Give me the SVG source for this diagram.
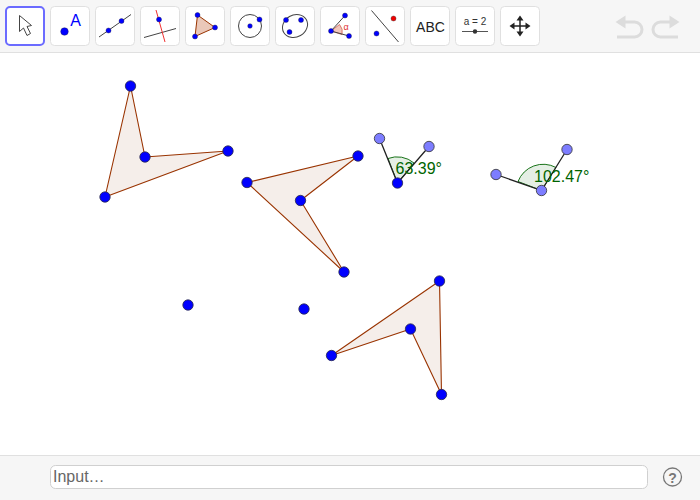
<svg xmlns="http://www.w3.org/2000/svg" width="700" height="500" viewBox="0 0 700 500">
<style>
text{font-family:"Liberation Sans",Arial,sans-serif}
.btn{fill:#fff;stroke:#e0e0e0;stroke-width:1}
.poly{fill:#995533;fill-opacity:.1;stroke:#993300;stroke-width:1.1;stroke-linejoin:round}
.pt{fill:#0000ff;stroke:#2a2a4a;stroke-width:.8}
.lp{fill:#7d7dff;stroke:#333;stroke-width:.8}
.seg{stroke:#222;stroke-width:1.3;fill:none}
.ang{fill:#006400;fill-opacity:.1;stroke:#006400;stroke-width:.9}
.alab{fill:#006400;font-size:16px}
.ip{fill:#0000ff;stroke:#224;stroke-width:.4}
.ic{stroke:#444;stroke-width:1;fill:none}
.und{fill:none;stroke:#dcdcdc;stroke-width:3}
.undh{fill:#dcdcdc}
</style>
<rect width="700" height="500" fill="#fff"/>
<g id="toolbar">
<rect x="0" y="0" width="700" height="52" fill="#f6f6f6"/>
<line x1="0" y1="52.500" x2="700" y2="52.500" stroke="#e0e0e0"/>
<rect x="6" y="7" width="38" height="38" rx="4" fill="#fff" stroke="#6b6bff" stroke-width="2"/>
<path d="M19.500 15.500V31.500L23.500 28L27 35.500L30.500 33.500L27 26.500L31.500 25.500Z" fill="#fff" stroke="#444"/>
<rect class="btn" x="50.500" y="6.500" width="39" height="39" rx="4"/>
<circle class="ip" cx="64.500" cy="31.500" r="3.800"/>
<text x="75.500" y="26" font-size="16" fill="#0000ff" text-anchor="middle">A</text>
<rect class="btn" x="95.500" y="6.500" width="39" height="39" rx="4"/>
<line class="ic" x1="99" y1="37" x2="131" y2="14.500"/>
<circle class="ip" cx="108.500" cy="30.500" r="2.500"/><circle class="ip" cx="121.500" cy="21" r="2.500"/>
<rect class="btn" x="140.500" y="6.500" width="39" height="39" rx="4"/>
<line class="ic" x1="144" y1="37.500" x2="176" y2="28.500"/>
<line x1="156" y1="10" x2="165" y2="42" stroke="#f03030"/>
<circle class="ip" cx="159" cy="19.500" r="2.500"/>
<rect class="btn" x="185.500" y="6.500" width="39" height="39" rx="4"/>
<path d="M197.500 15L215 27.500L195 36.500Z" fill="#d89a80" fill-opacity=".55" stroke="#993300"/>
<circle class="ip" cx="197.500" cy="15" r="2.500"/><circle class="ip" cx="215" cy="27.500" r="2.500"/><circle class="ip" cx="195" cy="36.500" r="2.500"/>
<rect class="btn" x="230.500" y="6.500" width="39" height="39" rx="4"/>
<circle class="ic" cx="250" cy="26" r="11.500"/>
<circle class="ip" cx="250" cy="26" r="2.300"/><circle class="ip" cx="259.500" cy="19.500" r="2.500"/>
<rect class="btn" x="275.500" y="6.500" width="39" height="39" rx="4"/>
<ellipse class="ic" cx="295" cy="26" rx="13" ry="11" transform="rotate(-30 295 26)"/>
<circle class="ip" cx="286" cy="20" r="2.500"/><circle class="ip" cx="301" cy="20" r="2.500"/><circle class="ip" cx="289.500" cy="32" r="2.500"/>
<rect class="btn" x="320.500" y="6.500" width="39" height="39" rx="4"/>
<path d="M331 31L339.500 24.500A11 11 0 0 1 342 34.500Z" fill="#e8a090" fill-opacity=".6" stroke="#d06050" stroke-width=".8"/>
<path class="ic" d="M345 15.500L331 31L349 36"/>
<circle class="ip" cx="345" cy="15.500" r="2.500"/><circle class="ip" cx="331" cy="31" r="2.500"/><circle class="ip" cx="349" cy="36" r="2.500"/>
<text x="346" y="30" font-size="9" fill="#e03030" text-anchor="middle">α</text>
<rect class="btn" x="365.500" y="6.500" width="39" height="39" rx="4"/>
<line class="ic" x1="371.500" y1="10.500" x2="398.500" y2="42"/>
<circle class="ip" cx="376.500" cy="33.500" r="2.500"/>
<circle cx="393.500" cy="18.500" r="2.500" fill="#f00000" stroke="#333" stroke-width=".4"/>
<rect class="btn" x="410.500" y="6.500" width="39" height="39" rx="4"/>
<text x="430.500" y="31.500" font-size="14" fill="#222" text-anchor="middle">ABC</text>
<rect class="btn" x="455.500" y="6.500" width="39" height="39" rx="4"/>
<text x="475" y="25" font-size="10" fill="#333" text-anchor="middle">a = 2</text>
<line x1="462" y1="31.500" x2="488" y2="31.500" stroke="#555"/>
<circle cx="475" cy="31.500" r="2.200" fill="#333"/>
<rect class="btn" x="500.500" y="6.500" width="39" height="39" rx="4"/>
<path d="M520 18V34M512 26H528" stroke="#222" stroke-width="1.500"/>
<path d="M520 15.500L523.500 20.500H516.500ZM520 36.500L523.500 31.500H516.500ZM509.500 26L514.500 22.500V29.500ZM530.500 26L525.500 22.500V29.500Z" fill="#222"/>
<path class="undh" d="M615.500 22L625.500 15.500V28.500Z"/>
<path class="und" d="M622 22H634.500A7.500 7.500 0 0 1 634.500 37H617"/>
<path class="undh" d="M679.500 22L669.500 15.500V28.500Z"/>
<path class="und" d="M673 22H660.500A7.500 7.500 0 0 0 660.500 37H678"/>
</g>
<g id="bottom-bar">
<rect x="0" y="456" width="700" height="44" fill="#f6f6f6"/>
<line x1="0" y1="455.500" x2="700" y2="455.500" stroke="#e0e0e0"/>
<rect x="50.500" y="465.500" width="597" height="23" rx="5" fill="#fff" stroke="#d0d0d0"/>
<text x="53" y="482" font-size="16" fill="#666">Input…</text>
<circle cx="672.500" cy="477" r="9" fill="none" stroke="#777" stroke-width="1.300"/>
<text x="672.500" y="482.500" font-size="14" font-weight="bold" fill="#777" text-anchor="middle">?</text>
</g>
<g id="connectors">
<polygon class="poly" points="130.500,86 145,157 228,151 105,197"/>
<polygon class="poly" points="358,156 300.500,200.500 344,272 247,182.500"/>
<polygon class="poly" points="439.500,281 441.500,394.500 410.500,329 331.500,355.500"/>
<path class="ang" d="M397.500 183L388 158.500A26 26 0 0 1 414 163Z"/>
<path class="ang" d="M541.500 190.500L518 181.500A27 27 0 0 1 556 167.500Z"/>
<path class="seg" d="M379.500 138.500L397.500 183L429 146.500"/>
<path class="seg" d="M496 174.500L541.500 190.500L567 149.500"/>
</g>
<g id="polygon-1-points">
<circle class="pt" cx="130.500" cy="86" r="5.200"/><circle class="pt" cx="145" cy="157" r="5.200"/><circle class="pt" cx="228" cy="151" r="5.200"/><circle class="pt" cx="105" cy="197" r="5.200"/>
</g>
<g id="polygon-2-points">
<circle class="pt" cx="358" cy="156" r="5.200"/><circle class="pt" cx="300.500" cy="200.500" r="5.200"/><circle class="pt" cx="344" cy="272" r="5.200"/><circle class="pt" cx="247" cy="182.500" r="5.200"/>
</g>
<g id="polygon-3-points">
<circle class="pt" cx="439.500" cy="281" r="5.200"/><circle class="pt" cx="441.500" cy="394.500" r="5.200"/><circle class="pt" cx="410.500" cy="329" r="5.200"/><circle class="pt" cx="331.500" cy="355.500" r="5.200"/>
</g>
<g id="free-points">
<circle class="pt" cx="188" cy="305" r="5.200"/><circle class="pt" cx="304" cy="309" r="5.200"/>
</g>
<g id="angle-1">
<circle class="lp" cx="379.500" cy="138.500" r="5.200"/><circle class="lp" cx="429" cy="146.500" r="5.200"/><circle class="pt" cx="397.500" cy="183" r="5.200"/>
<text class="alab" x="395.500" y="174">63.39°</text>
</g>
<g id="angle-2">
<circle class="lp" cx="496" cy="174.500" r="5.200"/><circle class="lp" cx="567" cy="149.500" r="5.200"/><circle class="lp" cx="541.500" cy="190.500" r="5.200"/>
<text class="alab" x="534" y="181.500">102.47°</text>
</g>
</svg>
